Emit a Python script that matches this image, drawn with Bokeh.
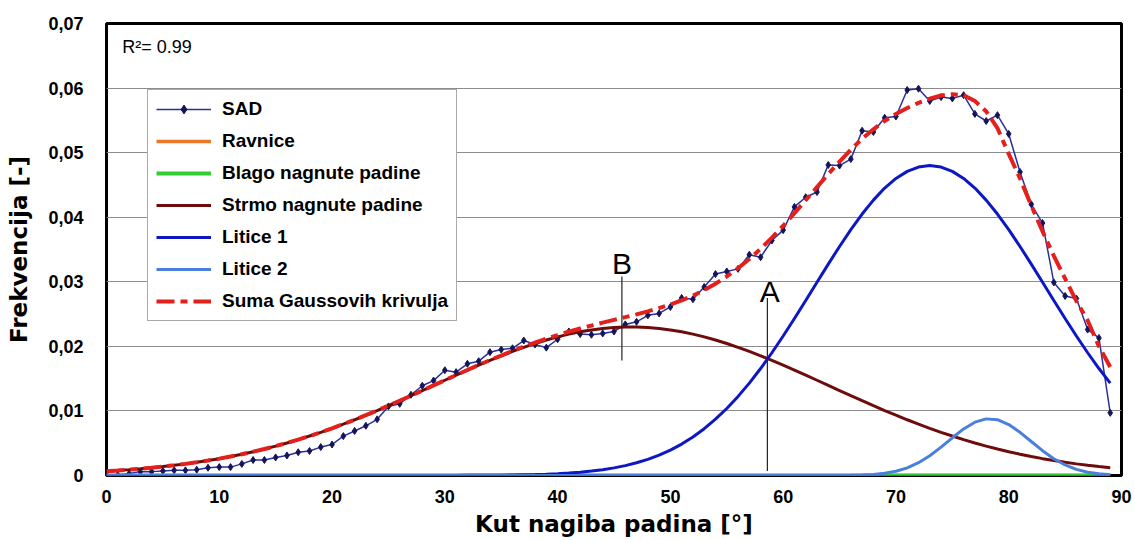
from bokeh.plotting import figure
from bokeh.models import Legend, LegendItem, FixedTicker, Label
from bokeh.embed import file_html
from bokeh.resources import INLINE
from bokeh.core.properties import value

# ---------------- data ----------------
angle = list(range(90))

sad = [0.0001, 0.0001, 0.0003, 0.0006, 0.0006, 0.0007, 0.0008, 0.0008, 0.0009, 0.0012,
       0.0013, 0.0013, 0.0018, 0.0024, 0.0024, 0.0028, 0.0031, 0.0036, 0.0038, 0.0044,
       0.0048, 0.0061, 0.0069, 0.0077, 0.0087, 0.0107, 0.0111, 0.0125, 0.0139, 0.0147,
       0.0163, 0.0160, 0.0173, 0.0177, 0.0191, 0.0195, 0.0197, 0.0209, 0.0203, 0.0198,
       0.0211, 0.0223, 0.0219, 0.0218, 0.0220, 0.0223, 0.0234, 0.0238, 0.0248, 0.0251,
       0.0261, 0.0275, 0.0273, 0.0292, 0.0312, 0.0316, 0.0320, 0.0342, 0.0338, 0.0364,
       0.0380, 0.0416, 0.0431, 0.0439, 0.0481, 0.0480, 0.0490, 0.0534, 0.0532, 0.0554,
       0.0556, 0.0597, 0.0599, 0.0580, 0.0586, 0.0584, 0.0589, 0.0560, 0.0549, 0.0558,
       0.0529, 0.0470, 0.0420, 0.0391, 0.0299, 0.0278, 0.0274, 0.0226, 0.0213, 0.0097]

ravnice = [0.0] * 90
blago = [0.0] * 90

strmo = [0.00067, 0.00078, 0.00091, 0.00105, 0.00121, 0.00138, 0.00158, 0.00180, 0.00204, 0.00232,
         0.00261, 0.00294, 0.00330, 0.00368, 0.00410, 0.00455, 0.00504, 0.00555, 0.00611, 0.00669,
         0.00731, 0.00796, 0.00863, 0.00934, 0.01006, 0.01081, 0.01158, 0.01236, 0.01315, 0.01395,
         0.01475, 0.01554, 0.01632, 0.01708, 0.01782, 0.01853, 0.01921, 0.01985, 0.02044, 0.02098,
         0.02147, 0.02189, 0.02225, 0.02254, 0.02277, 0.02292, 0.02299, 0.02299, 0.02292, 0.02277,
         0.02254, 0.02225, 0.02189, 0.02147, 0.02098, 0.02044, 0.01985, 0.01921, 0.01853, 0.01782,
         0.01708, 0.01632, 0.01554, 0.01475, 0.01395, 0.01315, 0.01236, 0.01158, 0.01081, 0.01006,
         0.00934, 0.00863, 0.00796, 0.00731, 0.00669, 0.00611, 0.00555, 0.00504, 0.00455, 0.00410,
         0.00368, 0.00330, 0.00294, 0.00261, 0.00232, 0.00204, 0.00180, 0.00158, 0.00138, 0.00121]

litice1 = [0.0, 0.0, 0.0, 0.0, 0.0, 0.0, 0.0, 0.0, 0.0, 0.0,
           0.0, 0.0, 0.0, 0.0, 0.0, 0.0, 0.0, 0.0, 0.0, 0.0,
           0.0, 0.0, 0.0, 0.0, 0.0, 0.0, 0.0, 0.0, 0.0, 0.00001,
           0.00001, 0.00001, 0.00002, 0.00003, 0.00004, 0.00005, 0.00007, 0.00011, 0.00015, 0.00020,
           0.00028, 0.00038, 0.00051, 0.00068, 0.00090, 0.00118, 0.00153, 0.00197, 0.00250, 0.00316,
           0.00394, 0.00487, 0.00597, 0.00725, 0.00872, 0.01038, 0.01225, 0.01431, 0.01657, 0.01901,
           0.02160, 0.02431, 0.02710, 0.02992, 0.03274, 0.03547, 0.03808, 0.04049, 0.04265, 0.04451,
           0.04600, 0.04710, 0.04777, 0.04800, 0.04777, 0.04710, 0.04600, 0.04451, 0.04265, 0.04049,
           0.03808, 0.03547, 0.03274, 0.02992, 0.02710, 0.02431, 0.02160, 0.01901, 0.01657, 0.01431]

litice2 = [0.0, 0.0, 0.0, 0.0, 0.0, 0.0, 0.0, 0.0, 0.0, 0.0,
           0.0, 0.0, 0.0, 0.0, 0.0, 0.0, 0.0, 0.0, 0.0, 0.0,
           0.0, 0.0, 0.0, 0.0, 0.0, 0.0, 0.0, 0.0, 0.0, 0.0,
           0.0, 0.0, 0.0, 0.0, 0.0, 0.0, 0.0, 0.0, 0.0, 0.0,
           0.0, 0.0, 0.0, 0.0, 0.0, 0.0, 0.0, 0.0, 0.0, 0.0,
           0.0, 0.0, 0.0, 0.0, 0.0, 0.0, 0.0, 0.0, 0.0, 0.0,
           0.0, 0.0, 0.0, 0.0, 0.0, 0.0, 0.00003, 0.00007, 0.00016, 0.00034,
           0.00066, 0.00119, 0.00198, 0.00306, 0.00439, 0.00584, 0.00721, 0.00826, 0.00877, 0.00864,
           0.00789, 0.00669, 0.00526, 0.00384, 0.00259, 0.00163, 0.00095, 0.00051, 0.00026, 0.00012]

suma = [0.00067, 0.00078, 0.00091, 0.00105, 0.00121, 0.00138, 0.00158, 0.00180, 0.00204, 0.00232,
        0.00261, 0.00294, 0.00330, 0.00368, 0.00410, 0.00455, 0.00504, 0.00555, 0.00611, 0.00669,
        0.00731, 0.00796, 0.00863, 0.00934, 0.01006, 0.01081, 0.01158, 0.01236, 0.01315, 0.01395,
        0.01475, 0.01554, 0.01634, 0.01711, 0.01786, 0.01858, 0.01928, 0.01996, 0.02059, 0.02118,
        0.02175, 0.02227, 0.02276, 0.02322, 0.02367, 0.02410, 0.02452, 0.02496, 0.02542, 0.02593,
        0.02648, 0.02712, 0.02786, 0.02872, 0.02970, 0.03082, 0.03210, 0.03352, 0.03510, 0.03683,
        0.03868, 0.04063, 0.04264, 0.04467, 0.04669, 0.04862, 0.05047, 0.05214, 0.05362, 0.05491,
        0.05600, 0.05692, 0.05771, 0.05837, 0.05885, 0.05905, 0.05890, 0.05800, 0.05640, 0.05380,
        0.04980, 0.04600, 0.04180, 0.03780, 0.03400, 0.03050, 0.02700, 0.02400, 0.02000, 0.01680]

x_ticks = [0, 10, 20, 30, 40, 50, 60, 70, 80, 90]
y_ticks = [0, 0.01, 0.02, 0.03, 0.04, 0.05, 0.06, 0.07]
y_tick_labels = ["0", "0,01", "0,02", "0,03", "0,04", "0,05", "0,06", "0,07"]

# annotation lines A / B
mark_labels = ["B", "A"]
mark_x = [45.7, 58.6]
mark_y0 = [0.0178, 0.0007]
mark_y1 = [0.0308, 0.0275]
mark_text_x = [45.7, 58.8]
mark_text_y = [0.0328, 0.0285]

r2_text = "R\u00b2= 0.99"
r2_x = 1.4
r2_y = 0.0663

# ---------------- figure ----------------
p = figure(width=1135, height=540, x_range=(0, 90), y_range=(0, 0.07),
           output_backend="svg", toolbar_location=None,
           min_border_left=106, min_border_right=14, min_border_top=23, min_border_bottom=65,
           background_fill_color="white", border_fill_color="white")

p.outline_line_color = "black"
p.outline_line_width = 3
p.xgrid.visible = False
p.ygrid.grid_line_color = "#8c8c8c"
p.ygrid.grid_line_width = 1

p.xaxis.ticker = FixedTicker(ticks=x_ticks)
p.yaxis.ticker = FixedTicker(ticks=y_ticks)
p.yaxis.major_label_overrides = dict(zip(y_ticks, y_tick_labels))

for ax in (p.xaxis, p.yaxis):
    ax.axis_line_color = None
    ax.major_tick_line_color = None
    ax.minor_tick_line_color = None
    ax.major_label_text_font = "Liberation Sans"
    ax.major_label_text_font_style = "bold"
    ax.major_label_text_font_size = "18px"
    ax.major_label_text_color = "black"
    ax.axis_label_text_font = "DejaVu Sans"
    ax.axis_label_text_font_style = "bold"
    ax.axis_label_text_font_size = "23px"
    ax.axis_label_text_color = "black"

p.xaxis.axis_label = "Kut nagiba padina [°]"
p.yaxis.axis_label = "Frekvencija [-]"
p.xaxis.major_label_standoff = 8
p.xaxis.axis_label_standoff = 5
p.yaxis.major_label_standoff = 17
p.yaxis.axis_label_standoff = 13

# ---------------- glyphs ----------------
r_sad_l = p.line(angle, sad, line_color="#2b2f9a", line_width=1.5)
r_sad_m = p.scatter(angle, sad, marker="diamond", size=7, fill_color="#14145a",
                    line_color="#14145a")
r_rav = p.line(angle, ravnice, line_color="#e8782a", line_width=3.5)
r_bla = p.line(angle, blago, line_color="#33cc33", line_width=4)
r_str = p.line(angle, strmo, line_color="#6e0c0c", line_width=3)
r_l1 = p.line(angle, litice1, line_color="#0d17c4", line_width=3)
r_l2 = p.line(angle, litice2, line_color="#4a80dc", line_width=3)
r_sum = p.line(angle, suma, line_color="#e3201b", line_width=4, line_dash="18 6 7 6")

p.segment(x0=mark_x, y0=mark_y0, x1=mark_x, y1=mark_y1, line_color="#222222", line_width=1.2)
p.text(x=mark_text_x, y=mark_text_y, text=mark_labels, text_font=value("Liberation Sans"),
       text_font_size="30px", text_align="center", text_baseline="alphabetic",
       text_color="black")

p.add_layout(Label(x=r2_x, y=r2_y, text=r2_text, text_font="Liberation Sans",
                   text_font_size="18px", text_color="black", text_baseline="alphabetic"))

legend = Legend(items=[
    LegendItem(label="SAD", renderers=[r_sad_l, r_sad_m]),
    LegendItem(label="Ravnice", renderers=[r_rav]),
    LegendItem(label="Blago nagnute padine", renderers=[r_bla]),
    LegendItem(label="Strmo nagnute padine", renderers=[r_str]),
    LegendItem(label="Litice 1", renderers=[r_l1]),
    LegendItem(label="Litice 2", renderers=[r_l2]),
    LegendItem(label="Suma Gaussovih krivulja", renderers=[r_sum]),
], location=(41, 154))
legend.margin = 0
legend.padding = 8
legend.spacing = 10
legend.glyph_width = 55
legend.glyph_height = 22
legend.label_height = 22
legend.label_standoff = 11
legend.label_text_font = "Liberation Sans"
legend.label_text_font_style = "bold"
legend.label_text_font_size = "19px"
legend.label_text_color = "black"
legend.border_line_color = "#555555"
legend.border_line_width = 1
legend.background_fill_color = "white"
legend.background_fill_alpha = 1
p.add_layout(legend, "center")

open("out.html", "w").write(file_html(p, INLINE))
